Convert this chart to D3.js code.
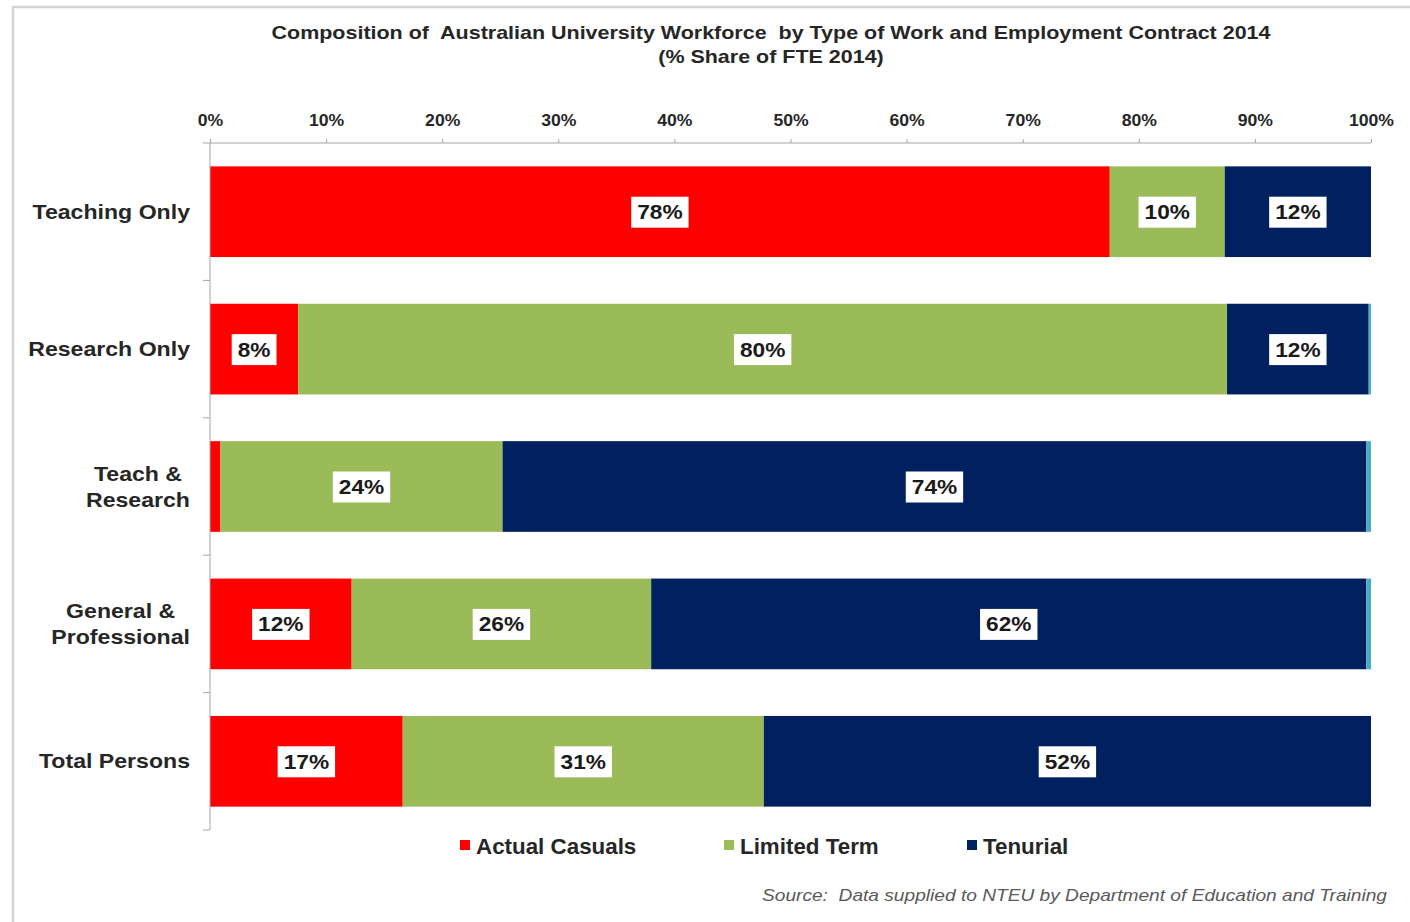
<!DOCTYPE html>
<html>
<head>
<meta charset="utf-8">
<script src="https://cdn.jsdelivr.net/npm/d3@7"></script>
<style>
  html, body { margin: 0; padding: 0; background: #fff; }
  svg { display: block; }
</style>
</head>
<body>
<svg id="chart" width="1410" height="922"></svg>
<script>
// ---------- Data ----------
const categories = [["Teaching Only"], ["Research Only"], ["Teach &", "Research"], ["General &", "Professional"], ["Total Persons"]];
const categoryKeys = ["Teaching Only", "Research Only", "Teach & Research", "General & Professional", "Total Persons"];
const seriesNames = ["Actual Casuals", "Limited Term", "Tenurial"];
const casualValues   = [77.5, 7.6, 0.9, 12.2, 16.6];
const limitedValues  = [9.9, 80.0, 24.3, 25.8, 31.1];
const tenurialValues = [12.6, 12.2, 74.4, 61.6, 52.3];
const otherValues    = [0, 0.2, 0.4, 0.4, 0];
const casualLabels   = ["78%", "8%", "", "12%", "17%"];
const limitedLabels  = ["10%", "80%", "24%", "26%", "31%"];
const tenurialLabels = ["12%", "12%", "74%", "62%", "52%"];
const xTicks = [0, 10, 20, 30, 40, 50, 60, 70, 80, 90, 100];
const xTickLabels = ["0%", "10%", "20%", "30%", "40%", "50%", "60%", "70%", "80%", "90%", "100%"];
const titleLines = ["Composition of  Australian University Workforce  by Type of Work and Employment Contract 2014", "(% Share of FTE 2014)"];
const sourceText = "Source:  Data supplied to NTEU by Department of Education and Training";

// ---------- Styles ----------
const colors = ["#ff0000", "#9bbb59", "#002060", "#4bacc6"];
const FONT = "'Liberation Sans', Arial, sans-serif";
const STRETCH = 1.13;
const TEXT = "#262626";

const svg = d3.select("#chart");
svg.append("rect").attr("width", 1410).attr("height", 922).attr("fill", "#fff");

// stretch text horizontally, return resulting width
function stretch(sel, f) {
  let w = 0;
  sel.each(function () {
    const len = this.getComputedTextLength();
    if (len > 0) {
      d3.select(this).attr("textLength", len * (f || STRETCH)).attr("lengthAdjust", "spacingAndGlyphs");
      w = Math.max(w, len * (f || STRETCH));
    }
  });
  return w;
}

// outer border
svg.append("path").attr("d", "M13,922 L13,7 L1410,7").attr("fill", "none")
  .attr("stroke", "#d4d4d4").attr("stroke-width", 2.5);

// ---------- Scales ----------
const x = d3.scaleLinear().domain([0, 100]).range([210, 1371]);
const y = d3.scaleBand().domain(categoryKeys).range([143, 830]).paddingInner(0.34).paddingOuter(0.17);

// ---------- Title ----------
const title = svg.append("g");
titleLines.forEach((t, i) => {
  const tt = title.append("text").attr("x", 771).attr("y", 39 + i * 24)
    .attr("text-anchor", "middle").style("white-space", "pre")
    .attr("font-family", FONT).attr("font-weight", "bold").attr("font-size", 19)
    .attr("fill", TEXT).text(t);
  stretch(tt, 1.13);
});

// ---------- Stacked bars ----------
const rows = categoryKeys.map((k, i) => ({ key: k, a: casualValues[i], b: limitedValues[i], c: tenurialValues[i], d: otherValues[i] }));
const stack = d3.stack().keys(["a", "b", "c", "d"]);
const stacked = stack(rows);
const labelSets = [casualLabels, limitedLabels, tenurialLabels, null];

const barG = svg.append("g");
stacked.forEach((layer, si) => {
  barG.append("g").attr("fill", colors[si])
    .selectAll("rect").data(layer).join("rect")
    .attr("x", d => x(d[0]))
    .attr("y", d => y(d.data.key))
    .attr("width", d => Math.max(0, x(d[1]) - x(d[0])))
    .attr("height", y.bandwidth());
});

// value labels
const lblG = svg.append("g");
stacked.forEach((layer, si) => {
  const labels = labelSets[si];
  if (!labels) return;
  layer.forEach((d, i) => {
    if (!labels[i]) return;
    const cx = (x(d[0]) + x(d[1])) / 2;
    const cy = y(d.data.key) + y.bandwidth() / 2;
    const g = lblG.append("g");
    const r = g.append("rect").attr("fill", "#fff");
    const t = g.append("text").attr("x", cx).attr("y", cy + 7.5)
      .attr("text-anchor", "middle").attr("font-family", FONT).attr("font-weight", "bold")
      .attr("font-size", 21).attr("fill", "#1a1a1a").text(labels[i]);
    const w = stretch(t, 1.08) + 12;
    r.attr("x", cx - w / 2).attr("y", cy - 15).attr("width", w).attr("height", 31);
  });
});

// ---------- Axes ----------
const xAxis = d3.axisTop(x).tickValues(xTicks).tickSize(4).tickPadding(13)
  .tickFormat((d, i) => xTickLabels[i]);
const xg = svg.append("g").attr("transform", "translate(0,143)").call(xAxis);
xg.select(".domain").attr("stroke", "#a6a6a6").attr("d", `M${x(0)},0H${x(100)}`);
xg.selectAll(".tick line").attr("stroke", "#a6a6a6");
xg.selectAll(".tick text").attr("font-family", FONT).attr("font-weight", "bold")
  .attr("font-size", 16).attr("fill", TEXT);
xg.selectAll(".tick text").each(function () { stretch(d3.select(this), 1.1); });

// y axis: line with ticks at band boundaries
const boundaries = [y.range()[0]].concat(categoryKeys.map(k => y(k) + y.bandwidth() + y.step() * y.paddingInner() / 2));
boundaries[boundaries.length - 1] = y.range()[1];
const yg = svg.append("g");
yg.append("line").attr("x1", x(0)).attr("x2", x(0)).attr("y1", y.range()[0]).attr("y2", y.range()[1])
  .attr("stroke", "#a6a6a6");
yg.selectAll("line.tk").data(boundaries).join("line").attr("class", "tk")
  .attr("x1", x(0) - 7).attr("x2", x(0)).attr("y1", d => d).attr("y2", d => d)
  .attr("stroke", "#a6a6a6");

// category labels
const catG = svg.append("g");
categories.forEach((lines, i) => {
  const cy = y(categoryKeys[i]) + y.bandwidth() / 2;
  const g = catG.append("g");
  const lh = 26;
  const ts = lines.map((ln, j) => g.append("text")
    .attr("y", cy + 7 + (j - (lines.length - 1) / 2) * lh)
    .attr("text-anchor", "middle").attr("font-family", FONT).attr("font-weight", "bold")
    .attr("font-size", 21).attr("fill", TEXT).text(ln));
  const widths = ts.map(t => stretch(t, 1.1));
  const maxW = d3.max(widths);
  ts.forEach(t => t.attr("x", 190 - maxW / 2));
});

// ---------- Legend ----------
const legendX = [460, 724, 967];
const lg = svg.append("g");
seriesNames.forEach((n, i) => {
  lg.append("rect").attr("x", legendX[i]).attr("y", 840).attr("width", 10).attr("height", 10).attr("fill", colors[i]);
  const t = lg.append("text").attr("x", legendX[i] + 16).attr("y", 853.5)
    .attr("font-family", FONT).attr("font-weight", "bold").attr("font-size", 21.5)
    .attr("fill", TEXT).text(n);
  stretch(t, 1.04);
});

// ---------- Source ----------
const src = svg.append("text").attr("x", 1387).attr("y", 901).attr("text-anchor", "end")
  .style("white-space", "pre")
  .attr("font-family", FONT).attr("font-style", "italic").attr("font-size", 17)
  .attr("fill", "#595959").text(sourceText);
src.attr("textLength", 625).attr("lengthAdjust", "spacingAndGlyphs");
</script>
</body>
</html>
